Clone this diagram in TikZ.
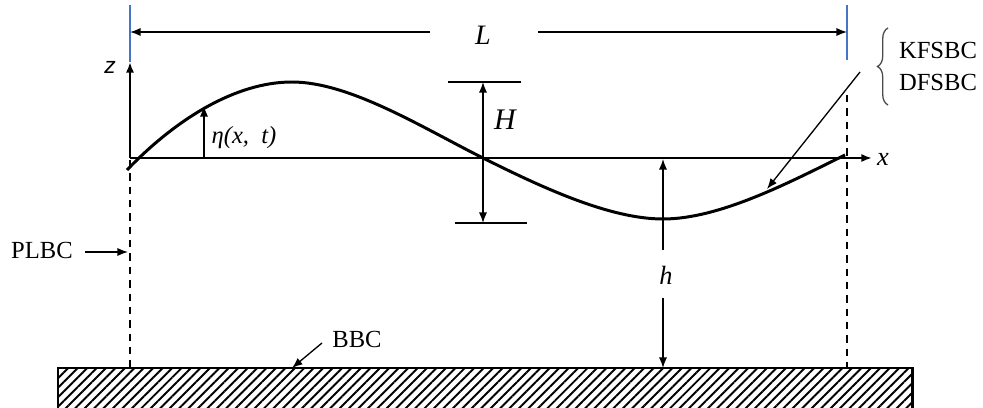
\documentclass[tikz,border=0pt]{standalone}
\usepackage{fontspec}
\setmainfont{Liberation Serif}
\newfontfamily\assefont{Liberation Sans}
\usetikzlibrary{arrows.meta,patterns.meta,decorations.pathreplacing}
\definecolor{bordoblu}{RGB}{72,116,200}
\tikzset{punta/.tip={Latex[length=6pt,width=4.6pt]}}

\begin{document}
\begin{tikzpicture}[x=0.02cm,y=-0.02cm,
    sottile/.style={line width=0.75pt},
    spesso/.style={line width=1.7pt},
    parete/.style={line width=1.5pt,dash pattern=on 4.2pt off 3.4pt},
    etich/.style={font=\fontsize{14}{16}\selectfont}]
        \useasboundingbox (0,0) rectangle (983,408);
        %scrivo lunghezza d'onda
        \draw[bordoblu,sottile](130,5)--(130,62);
        \draw[bordoblu,sottile](847,5)--(847,60);
        \coordinate (Lsx) at (130,32);
        \coordinate (Ldx) at (847,32);
        \node[font=\fontsize{16}{18}\selectfont\itshape] (L) at (483,35) {L};
        \draw[sottile,-punta](L)++(-53,-3) coordinate (La)--(Lsx);
        \draw[sottile,-punta](L)++(55,-3) coordinate (Lb)--(Ldx);
        %disegno fondale
        \fill[pattern={Lines[angle=45,distance=3.8pt,line width=1.1pt]}](58,368)rectangle(912,412);
        \draw[spesso](58,412)--(58,368)--(912,368)--(912,412);
        %disegno pareti laterali tratteggiate
        \draw[parete](130,160)--(130,368);
        \draw[parete](847,95)--(847,368);
        %disegno assi
        \coordinate (O) at (130,158);
        \draw[spesso,-punta](O)--(130,62)coordinate(ztip);
        \draw[spesso,-punta](O)--(872,158)coordinate(xtip);
        \node[font=\fontsize{13}{15}\selectfont\assefont\itshape] (z) at (110,67) {z};
        \node[font=\fontsize{15}{17}\selectfont\itshape] (x) at (883,159) {x};
        %disegno onda
        \draw[spesso](127,170)..controls (175,120)and(235,82)   ..(292,82)
                     ..controls (350,82) and(423,128) ..(483,158)
                     ..controls (543,188)and(610,219) ..(663,219)
                     ..controls (720,219)and(790,182) ..(845,155);
        %elevazione eta
        \coordinate (etab) at (204,158);
        \coordinate (etat) at (204,106);
        \draw[sottile,-punta](etab)--(etat);
        \node[font=\fontsize{14}{16}\selectfont\itshape] (eta) at (244,138) {η(x,~ t)};
        %altezza d'onda H
        \draw[sottile](448,82)--(521,82);
        \draw[sottile](455,223)--(527,223);
        \coordinate (Ht) at (483,82);
        \coordinate (Hb) at (483,223);
        \draw[sottile,punta-punta](Ht)--(Hb);
        \node[font=\fontsize{17}{19}\selectfont\itshape] (H) at (505,120) {H};
        %profondita h
        \node[font=\fontsize{15}{17}\selectfont\itshape] (h) at (666,275) {h};
        \coordinate (ht) at (663,159);
        \coordinate (hb) at (663,368);
        \draw[sottile,-punta](663,250)--(ht);
        \draw[sottile,-punta](663,298)--(hb);
        %condizioni al contorno
        \node[etich] (plbc) at (42,250) {PLBC};
        \coordinate (plbcp) at (128,252);
        \draw[sottile,-punta](plbc.east)++(6,2)--(plbcp);
        \node[etich] (bbc) at (357,339) {BBC};
        \coordinate (bbcp) at (292,368);
        \draw[sottile,-punta](322,343)--(bbcp);
        \node[etich] (kf) at (938,50) {KFSBC};
        \node[etich] (df) at (938,82) {DFSBC};
        \draw[gray!60!black,sottile,decorate,decoration={brace,amplitude=6pt}](888,105)--(888,28);
        \coordinate (kfp) at (767,189);
        \draw[sottile,-punta](860,72)--(kfp);
    \end{tikzpicture}
\end{document}
